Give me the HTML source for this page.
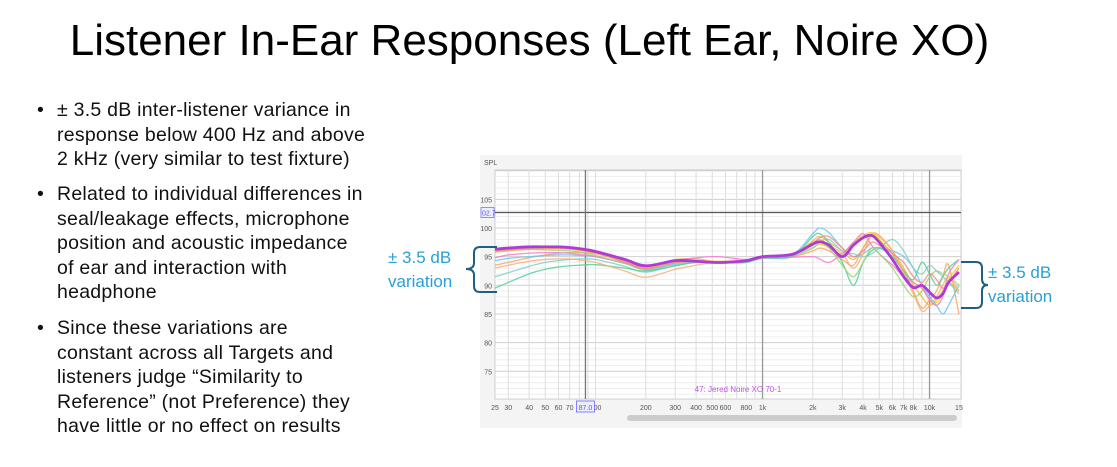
<!DOCTYPE html>
<html><head><meta charset="utf-8">
<style>
body{margin:0;width:1117px;height:467px;background:#fff;position:relative;overflow:hidden;font-family:"Liberation Sans",Arial,sans-serif}
.title{position:absolute;left:0;width:1117px;top:16px;text-align:center;font-size:44px;color:#000;padding-right:58px;box-sizing:border-box;white-space:nowrap}
.bl{position:absolute;left:57px;font-size:19.5px;line-height:24.5px;color:#111;white-space:nowrap;letter-spacing:0.25px}
.bl:before{content:"•";position:absolute;left:-20px}
.ann{position:absolute;font-size:17px;line-height:24px;color:#2a9fd6}
</style></head><body>
<div class="title">Listener In-Ear Responses (Left Ear, Noire XO)</div>
<div class="bl" style="top:98px">± 3.5 dB inter-listener variance in<br>response below 400 Hz and above<br>2 kHz (very similar to test fixture)</div>
<div class="bl" style="top:182px">Related to individual differences in<br>seal/leakage effects, microphone<br>position and acoustic impedance<br>of ear and interaction with<br>headphone</div>
<div class="bl" style="top:316px">Since these variations are<br>constant across all Targets and<br>listeners judge “Similarity to<br>Reference” (not Preference) they<br>have little or no effect on results</div>
<div class="ann" style="left:388px;top:246px">± 3.5 dB<br>variation</div>
<div class="ann" style="left:988px;top:261px">± 3.5 dB<br>variation</div>
<svg id="chart" width="1117" height="467" style="position:absolute;left:0;top:0"></svg>
<script>
const freqs=[25,30,40,50,60,70,80,100,150,200,300,400,500,600,800,1000,1500,2000,2200,2500,3000,3500,4000,4500,5000,6000,7000,8000,9000,10000,11000,12000,13000,15000];
const mainSeries=[96.3,96.5,96.7,96.7,96.7,96.6,96.4,95.9,94.5,93.4,94.3,94.2,94.0,94.0,94.3,95.0,95.4,97.2,97.6,97.0,95.0,97.0,98.3,98.7,97.5,94.5,91.5,89.6,90.0,88.8,87.8,88.5,90.5,92.3];
const s1=[96.0,96.3,96.5,96.6,96.6,96.5,96.3,95.8,94.4,93.2,94.1,94.1,94.0,94.1,94.3,95.0,95.4,96.6,97.2,96.6,95.5,97.5,98.7,99.2,98.0,95.5,92.5,90.5,89.5,87.5,87.0,88.5,91.0,93.5];
const s2=[95.8,96.0,96.3,96.4,96.4,96.3,96.1,95.6,94.1,93.0,94.2,94.2,94.2,94.2,94.3,95.0,95.2,97.8,98.5,97.5,96.0,94.5,96.5,99.0,98.5,96.0,93.0,90.0,88.0,86.5,87.5,89.0,90.5,89.0];
const s3=[93.5,94.0,94.8,95.3,95.6,95.7,95.7,95.5,94.2,93.1,94.5,94.6,94.2,94.0,94.0,94.8,95.0,96.0,96.5,96.0,94.5,93.5,96.5,98.5,97.8,95.5,92.5,89.0,86.0,87.5,89.0,91.5,93.5,85.0];
const s4=[94.3,94.7,95.0,95.2,95.3,95.3,95.2,95.0,93.8,92.7,93.7,94.0,94.1,94.1,94.3,95.0,95.3,99.0,100.0,99.2,96.5,95.0,95.5,96.5,96.5,96.0,95.0,93.0,90.0,88.0,86.5,85.0,86.5,90.0];
const s5=[91.5,92.2,93.3,94.0,94.3,94.5,94.6,94.5,93.3,92.3,93.5,94.0,94.0,93.9,94.0,94.8,95.1,96.5,97.5,98.0,96.0,95.5,95.0,95.5,96.5,98.0,96.0,93.0,92.0,93.5,92.5,91.5,90.5,88.5];
const s6=[89.5,90.5,92.0,92.8,93.2,93.4,93.5,93.6,93.0,92.5,93.4,94.0,94.1,94.0,94.0,94.7,95.0,98.5,99.0,97.5,94.0,90.0,94.0,96.0,96.5,95.0,92.5,91.0,94.0,92.0,90.0,91.5,93.0,94.5];
const s7=[94.8,95.3,95.6,95.7,95.7,95.6,95.4,95.0,93.9,93.3,94.3,94.8,95.0,94.9,94.5,94.8,94.9,95.0,94.6,94.0,95.5,97.5,99.0,97.0,95.5,93.5,91.5,90.5,89.5,87.5,86.5,88.0,92.0,94.5];
const s8=[96.0,96.2,96.3,96.2,96.1,96.0,95.8,95.2,93.8,92.8,94.0,94.1,94.0,94.0,94.2,95.0,95.3,97.0,97.5,96.5,93.5,91.5,94.0,96.5,95.5,93.0,90.0,88.0,89.0,91.5,92.5,92.0,91.5,90.0];
const s9=[93.0,93.5,94.2,94.5,94.6,94.6,94.4,94.0,92.5,91.4,92.8,93.5,94.0,94.2,94.4,95.0,95.3,97.5,98.0,97.0,95.5,93.0,95.5,98.8,98.7,96.0,92.0,88.5,85.5,86.5,88.0,90.0,91.5,89.0];
const s10=[96.0,96.2,96.5,96.6,96.5,96.4,96.2,95.7,94.0,92.9,93.9,94.2,94.1,94.0,94.2,95.0,95.3,97.2,98.3,98.5,96.5,95.0,96.0,97.5,97.0,95.5,94.0,91.5,90.5,92.0,91.0,89.5,90.5,93.0];
const colors=["#f5d400","#f0b93a","#f5a860","#6cc4f0","#7fd0c8","#52d19a","#f57bd0","#9cd46f","#f7b07a","#f28a8a"];
const others=[s1,s2,s3,s4,s5,s6,s7,s8,s9,s10];
const yTicks=[75,80,85,90,95,100,105];
const xLabels=[[25,"25"],[30,"30"],[40,"40"],[50,"50"],[60,"60"],[70,"70"],[100,"100"],[200,"200"],[300,"300"],[400,"400"],[500,"500"],[600,"600"],[800,"800"],[1000,"1k"],[2000,"2k"],[3000,"3k"],[4000,"4k"],[5000,"5k"],[6000,"6k"],[7000,"7k"],[8000,"8k"],[10000,"10k"],[15000,"15"]];
const NS="http://www.w3.org/2000/svg",svg=document.getElementById('chart');
const L=495,R=961,T=170,B=399;
const X=f=>L+(Math.log10(f)-Math.log10(25))*167;
const Y=v=>228+(100-v)*5.73;
function el(t,a,p){const e=document.createElementNS(NS,t);for(const k in a)e.setAttribute(k,a[k]);(p||svg).appendChild(e);return e;}
let e=el('rect',{x:480,y:155,width:482,height:273,fill:'#f4f4f4'});


e=el('rect',{x:L,y:T,width:R-L,height:B-T,fill:'#fff',stroke:'#ccc'});


for(let v=71;v<=110;v++){if(Y(v)<T||Y(v)>B)continue;el('line',{x1:L,x2:R,y1:Y(v),y2:Y(v),stroke:v%5?'#eee':'#cfcfcf','stroke-width':1});}
const gf=[];for(let d=10;d<=10000;d*=10)for(let m=1;m<10;m++){const f=d*m;if(f>=25&&f<=15300)gf.push(f);}
gf.forEach(f=>el('line',{x1:X(f),x2:X(f),y1:T,y2:B,stroke:(f==1000||f==10000)?'#999':'#ddd','stroke-width':(f==1000||f==10000)?1.3:1}));
el('line',{x1:L,x2:R,y1:Y(102.7),y2:Y(102.7),stroke:'#555','stroke-width':1.2});
el('line',{x1:X(87),x2:X(87),y1:T,y2:B,stroke:'#777','stroke-width':1.3});
yTicks.forEach(v=>{e=el('text',{x:L-3,y:Y(v)+3,'font-size':7,'text-anchor':'end',fill:'#555'});e.textContent=v;

});
e=el('text',{x:484,y:165,'font-size':7,fill:'#555'});e.textContent='SPL';


e=el('rect',{x:481,y:Y(102.7)-5,width:13,height:10,fill:'#eef',stroke:'#66f','stroke-width':0.7});
e=el('text',{x:482,y:Y(102.7)+3,'font-size':7,fill:'#55f'});e.textContent='02.7';
xLabels.forEach(([f,t])=>{e=el('text',{x:X(f),y:B+11,'font-size':7,'text-anchor':'middle',fill:'#555'});e.textContent=t;

});
el('rect',{x:X(87)-9,y:B+2,width:18,height:11,fill:'#eef',stroke:'#66f','stroke-width':0.8});
e=el('text',{x:X(87),y:B+11,'font-size':7,'text-anchor':'middle',fill:'#55f'});e.textContent='87.0';
e=el('rect',{x:627,y:415,width:330,height:6,rx:3,fill:'#ccc'});


function path(vals){let d='';const p=freqs.map((f,i)=>[X(f),Y(vals[i])]);d='M'+p[0][0]+','+p[0][1];
for(let i=1;i<p.length;i++){const p0=p[i-2]||p[i-1],p1=p[i-1],p2=p[i],p3=p[i+1]||p[i];
d+=` C${p1[0]+(p2[0]-p0[0])/6},${p1[1]+(p2[1]-p0[1])/6} ${p2[0]-(p3[0]-p1[0])/6},${p2[1]-(p3[1]-p1[1])/6} ${p2[0]},${p2[1]}`;}return d;}
others.forEach((s,i)=>{e=el('path',{d:path(s),fill:'none',stroke:colors[i],'stroke-width':1.3,opacity:0.85});

});
e=el('path',{d:path(mainSeries),fill:'none',stroke:'#b03ad8','stroke-width':2.8});


e=el('text',{x:738,y:392,'font-size':8,'text-anchor':'middle',fill:'#c050e8'});e.textContent='47: Jered Noire XO 70-1';


e=el('path',{d:'M497,247 L480,247 Q474,247 474,253 L474,263 Q474,269 466,269 Q474,269 474,275 L474,286 Q474,292 480,292 L497,292',fill:'none',stroke:'#1f5f80','stroke-width':2});


e=el('path',{d:'M961,262 L976,262 Q982,262 982,268 L982,279 Q982,285 988,285 Q982,285 982,291 L982,302 Q982,308 976,308 L961,308',fill:'none',stroke:'#1f5f80','stroke-width':2});


</script>
</body></html>
